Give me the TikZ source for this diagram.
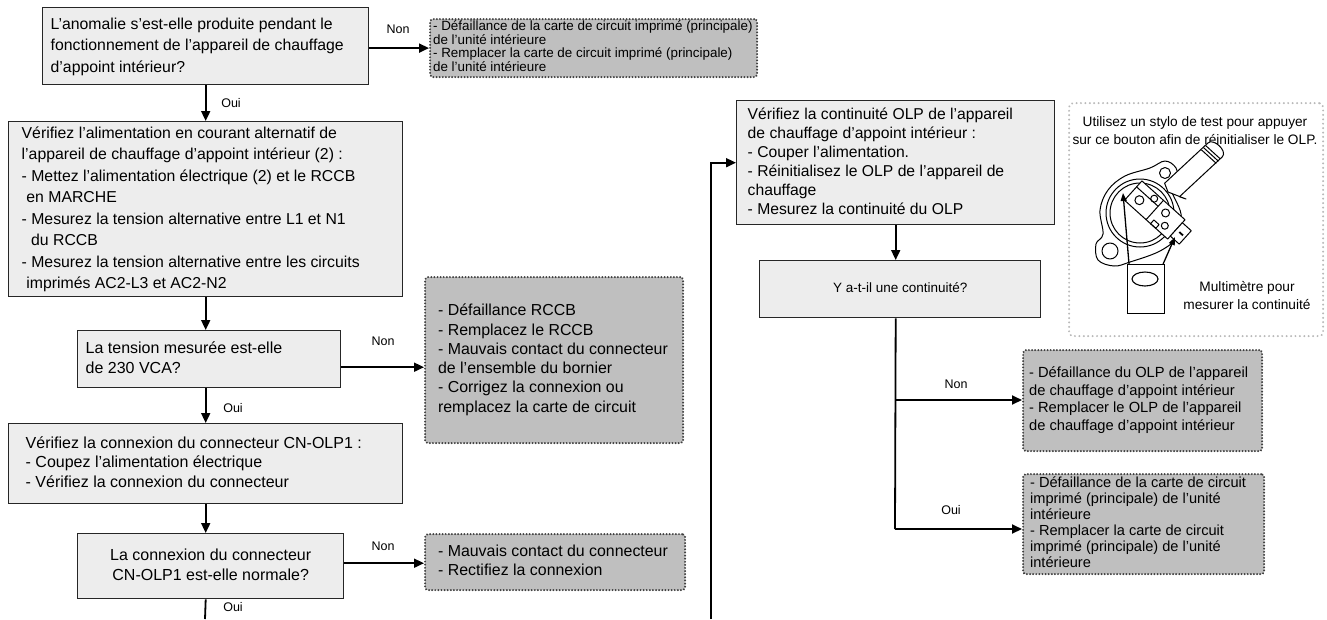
\documentclass[tikz,border=0pt]{standalone}
\usepackage{fontspec}
\setmainfont{Liberation Sans}
\usetikzlibrary{arrows.meta,calc}
\definecolor{procfill}{HTML}{EDEDED}
\definecolor{notefill}{HTML}{BFBFBF}
\definecolor{notedot}{HTML}{404040}
% a block of fixed-width lines that never wrap: [l] or [c], width, lines
\newcommand{\flowtext}[3][l]{\makebox[#2][#1]{\begin{tabular}{@{}#1@{}}#3\end{tabular}}}
\begin{document}
\begin{tikzpicture}[x=1pt,y=-1pt,
  proc/.style={draw=black!85, line width=1.4pt, fill=procfill, anchor=north west,
    inner ysep=0pt, font=\fontsize{15.8}{21.5}\selectfont},
  note/.style={draw=notedot, fill=notefill, line width=2.2pt, dash pattern=on 0.01pt off 3.1pt,
    line cap=round, rounded corners=3pt, anchor=north west, inner ysep=0pt},
  flow/.style={line width=1.8pt, -{Triangle[length=10pt,width=9pt]}},
  wire/.style={line width=1.8pt},
  lbl/.style={font=\fontsize{12.5}{14}\selectfont, inner sep=0pt},
  sketch/.style={line width=1pt, line join=round},
  probe/.style={line width=1.3pt, -{Triangle[length=8pt,width=6pt]}},
]
\useasboundingbox (0,0) rectangle (1327,619);

% ---------- left column ----------
\node[proc, inner xsep=8pt, minimum height=77pt] (q1) at (42,7)
  {\flowtext{310pt}{L’anomalie s’est-elle produite pendant le\\fonctionnement de l’appareil de chauffage\\d’appoint intérieur?}};

\node[note, inner xsep=3pt, minimum height=58pt,
      font=\fontsize{13.4}{13.3}\selectfont] (pcbA) at (429,18)
  {\flowtext{321pt}{- Défaillance de la carte de circuit imprimé (principale)\\de l’unité intérieure\\- Remplacer la carte de circuit imprimé (principale)\\de l’unité intérieure}};

\node[proc, inner xsep=13pt, minimum height=175pt] (acchk) at (8,121)
  {\flowtext{368pt}{Vérifiez l’alimentation en courant alternatif de\\
   l’appareil de chauffage d’appoint intérieur (2) :\\
   - Mettez l’alimentation électrique (2) et le RCCB\\
   \hspace*{0.3em}en MARCHE\\
   - Mesurez la tension alternative entre L1 et N1\\
   \hspace*{0.6em}du RCCB\\
   - Mesurez la tension alternative entre les circuits\\
   \hspace*{0.3em}imprimés AC2-L3 et AC2-N2}};

\node[proc, inner xsep=8pt, minimum height=57pt,
      font=\fontsize{16}{20}\selectfont] (volt) at (77,330)
  {\flowtext{247pt}{La tension mesurée est-elle\\de 230 VCA?}};

\node[note, inner xsep=13pt, minimum height=166pt,
      font=\fontsize{15.9}{19.3}\selectfont] (rccb) at (424,276)
  {\flowtext{232pt}{- Défaillance RCCB\\- Remplacez le RCCB\\- Mauvais contact du connecteur\\de l’ensemble du bornier\\- Corrigez la connexion ou\\remplacez la carte de circuit}};

\node[proc, inner xsep=17pt, minimum height=80pt,
      font=\fontsize{16}{19.5}\selectfont] (conn) at (8,423)
  {\flowtext{360pt}{Vérifiez la connexion du connecteur CN-OLP1 :\\- Coupez l’alimentation électrique\\- Vérifiez la connexion du connecteur}};

\node[proc, inner xsep=8pt, minimum height=65pt,
      font=\fontsize{16}{20}\selectfont] (connok) at (77,533)
  {\flowtext[c]{250pt}{La connexion du connecteur\\CN-OLP1 est-elle normale?}};

\node[note, inner xsep=13pt, minimum height=56pt,
      font=\fontsize{15.9}{19.3}\selectfont] (contact) at (424,533)
  {\flowtext{234pt}{- Mauvais contact du connecteur\\- Rectifiez la connexion}};

% ---------- right column ----------
\node[proc, inner xsep=11pt, minimum height=124pt,
      font=\fontsize{15.7}{19}\selectfont] (olpchk) at (736,100)
  {\flowtext{296pt}{Vérifiez la continuité OLP de l’appareil\\de chauffage d’appoint intérieur :\\- Couper l’alimentation.\\- Réinitialisez le OLP de l’appareil de\\chauffage\\- Mesurez la continuité du OLP}};

\node[proc, inner xsep=8pt, minimum height=57pt,
      font=\fontsize{13.5}{16}\selectfont] (cont) at (759,260)
  {\flowtext[c]{265pt}{Y a-t-il une continuité?}};

\node[note, inner xsep=6pt, minimum height=101pt,
      font=\fontsize{14.7}{17.7}\selectfont] (olpbad) at (1022,349)
  {\raisebox{4pt}{\flowtext{227pt}{- Défaillance du OLP de l’appareil\\de chauffage d’appoint intérieur\\- Remplacer le OLP de l’appareil\\de chauffage d’appoint intérieur}}};

\node[note, inner xsep=7pt, minimum height=100pt,
      font=\fontsize{14.6}{16}\selectfont] (pcbB) at (1022,473)
  {\flowtext{227pt}{- Défaillance de la carte de circuit\\imprimé (principale) de l’unité\\intérieure\\- Remplacer la carte de circuit\\imprimé (principale) de l’unité\\intérieure}};

% ---------- connectors ----------
\draw[flow] (q1.east |- pcbA.west) -- (pcbA.west);
\draw[flow] (q1.south) -- (q1.south |- acchk.north);
\draw[flow] (acchk.south) -- (acchk.south |- volt.north);
\draw[flow] ([yshift=-8pt]volt.east) -- ([yshift=-8pt]volt.east -| rccb.west);
\draw[flow] (acchk.south |- volt.south) -- (acchk.south |- conn.north);
\draw[flow] (conn.south) -- (conn.south |- connok.north);
\draw[flow] ([yshift=3pt]connok.east) -- ([yshift=3pt]connok.east -| contact.west);
\coordinate (exitOui) at (205,619);
\draw[wire] (conn.south |- connok.south) -- (exitOui);

\coordinate (loopIn) at (711,619);
\draw[flow] (loopIn) |- (olpchk.west);
\draw[flow] (olpchk.south) -- (olpchk.south |- cont.north);
\coordinate (jNon) at (895,400);
\coordinate (jOui) at (895,529);
\draw[wire] (olpchk.south |- cont.south) -- (jOui);
\draw[flow] (jNon) -- (jNon -| olpbad.west);
\draw[flow] (jOui) -- (jOui -| pcbB.west);

% ---------- branch labels ----------
\node[lbl] (nonA) at (398,29) {Non};
\node[lbl] (ouiA) at (231,103) {Oui};
\node[lbl] (nonB) at (383,341) {Non};
\node[lbl] (ouiB) at (233,408) {Oui};
\node[lbl] (nonC) at (383,546) {Non};
\node[lbl] (ouiC) at (233,607) {Oui};
\node[lbl] (nonD) at (956,384) {Non};
\node[lbl] (ouiD) at (951,510) {Oui};

% ---------- OLP reset sketch ----------
\node[draw=gray!55, line width=2.2pt, dash pattern=on 0.01pt off 4.4pt, line cap=round,
      rounded corners=4pt, fill=white, anchor=north west, inner sep=0pt,
      minimum width=254pt, minimum height=233pt] (illus) at (1068,102) {};
\node[font=\fontsize{13.7}{18}\selectfont, align=center, inner sep=0pt] (penhint) at (1195,131)
  {Utilisez un stylo de test pour appuyer\\sur ce bouton afin de réinitialiser le OLP.};
\node[font=\fontsize{13.7}{18}\selectfont, align=center, inner sep=0pt] (meterhint) at (1247,296)
  {Multimètre pour\\mesurer la continuité};

% mounting flange with its two holes
\draw[sketch, fill=white] plot[smooth cycle, tension=0.6] coordinates
  {(1165,161) (1176,168) (1177,181) (1171,189) (1181,214) (1178,236) (1160,251)
   (1130,262) (1114,266) (1098,260) (1096,244) (1103,234) (1100,210) (1108,190)
   (1125,176) (1150,168)};
\draw[sketch] (1165,173) circle (5.5);
\draw[sketch] (1110,251) circle (8);
% thermostat body
\draw[sketch, fill=white] (1140,213) circle (34);
\draw[sketch] (1140,213) circle (30);
% terminal block with reset button
\begin{scope}[shift={(1157,212)}, rotate=-42]
  \draw[sketch, fill=white] (-32,-13) rectangle (26,13);
  \draw[sketch] (-3,-13) -- (-3,13);
  \draw[sketch] (-32,-5) -- (-3,-5);
  \draw[sketch] (-21,3) circle (4.5);
  \draw[sketch] (-11,-8) circle (3.5);
  \draw[sketch] (7,-5) circle (4);
  \draw[sketch] (15,5) circle (3.5);
  \draw[sketch] (3,8) rectangle (10,13);
  \draw[sketch, fill=white] (26,-9) rectangle (38,9);
  \draw[line width=1.8pt] (30,0) -- (35,0);
\end{scope}
% test pen
\draw[sketch, fill=white] (1207.6,143.25) -- (1164.6,183.25) -- (1168,192) -- (1186,199)
  -- (1179.4,196.75) -- (1222.4,156.75)
  .. controls (1227.8,150.85) and (1213,137.35) .. cycle;
\draw[sketch] (1205.6,145.5) -- (1220.4,159);
\draw[sketch] (1203.6,147.7) -- (1218.4,161.2);
\draw[sketch] (1201.5,149.9) -- (1216.3,163.4);
% multimeter and probe leads
\node[draw, line width=1.1pt, fill=white, anchor=north west, inner sep=0pt,
      minimum width=37pt, minimum height=49pt] (meter) at (1127,264) {};
\draw[line width=1.1pt] (1145,279) ellipse (13 and 7);
\coordinate (probeL) at (1123,193);
\coordinate (probeR) at (1175,237);
\draw[probe] ([xshift=2pt]meter.north west) -- (probeL);
\draw[probe] ([xshift=-2pt]meter.north east) -- (probeR);
\end{tikzpicture}
\end{document}
